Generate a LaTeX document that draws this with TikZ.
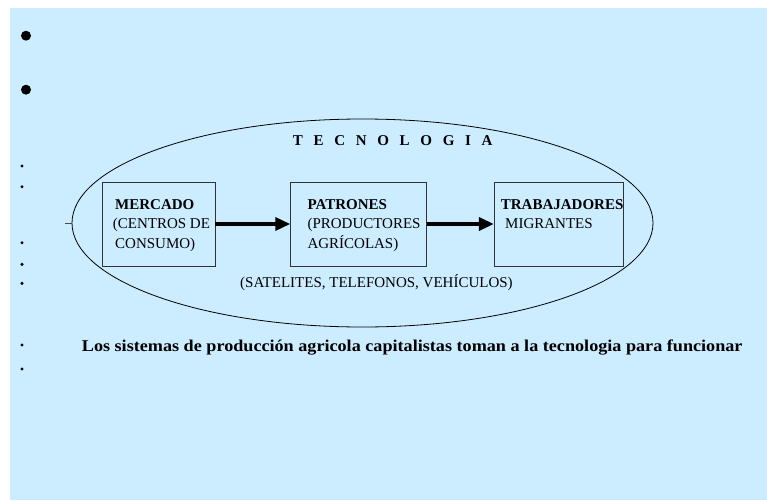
\documentclass[tikz,border=0pt]{standalone}
\usepackage{graphicx}
\usepackage{fontspec}
\setmainfont{Liberation Serif}
\usetikzlibrary{arrows.meta,shapes.geometric}
\definecolor{bgblue}{RGB}{204,236,255}
\definecolor{boxline}{RGB}{50,50,50}
\tikzset{
  txt/.style={inner sep=0pt, anchor=base west, font=\fontsize{15}{19}\selectfont},
  btxt/.style={txt, font=\fontsize{15}{19}\selectfont\bfseries},
  actor/.style={draw=boxline, line width=0.9pt, minimum width=113pt, minimum height=84pt, inner sep=0pt},
  flow/.style={line width=3.5pt, -{Triangle[length=15pt,width=13pt]}},
  bigdot/.style={fill=black, draw=none, circle, minimum size=10pt, inner sep=0pt},
  smalldot/.style={fill=black, draw=none, circle, minimum size=3.4pt, inner sep=0pt}
}
\begin{document}
\begin{tikzpicture}[x=1pt,y=-1pt]
\useasboundingbox (0,0) rectangle (767,500);
\fill[bgblue] (10,8) rectangle (767,500);

% bullets
\node[bigdot] (b1) at (26,35.7) {};
\node[bigdot] (b2) at (26,89.7) {};
\node[smalldot] (s1) at (22,166) {};
\node[smalldot] (s2) at (22,186.7) {};
\node[smalldot] (s3) at (22,242.7) {};
\node[smalldot] (s4) at (22,264.3) {};
\node[smalldot] (s5) at (22,283.3) {};
\node[smalldot] (s6) at (22,345) {};
\node[smalldot] (s7) at (22,369) {};

% ellipse
\node[ellipse, draw=black, line width=0.8pt, minimum width=581pt, minimum height=208pt, inner sep=0pt] (tec) at (362.5,223) {};
\draw[line width=0.6pt, black!70] (tec.west) -- ++(-7,0);

\node[btxt] (tt) at (292.7,145.7) {T\hspace{10.7pt}E\hspace{10.7pt}C\hspace{10.7pt}N\hspace{10.7pt}O\hspace{10.7pt}L\hspace{10.7pt}O\hspace{10.7pt}G\hspace{10.7pt}I\hspace{10.7pt}A};

% boxes
\node[actor, minimum width=113pt] (m) at (158.5,224) {};
\node[actor, minimum width=136pt] (p) at (358.7,224) {};
\node[actor, minimum width=129pt] (t) at (558.8,224) {};

\node[btxt] (m1) at (115,209) {MERCADO};
\node[txt] (m2) at (112.7,228.5) {(CENTROS DE};
\node[txt] (m3) at (115,248) {CONSUMO)};

\node[btxt] (p1) at (307.3,209) {PATRONES};
\node[txt] (p2) at (307.3,228.5) {(PRODUCTORES};
\node[txt] (p3) at (307.3,248) {AGRÍCOLAS)};

\node[btxt] (t1) at (500.7,209) {TRABAJADORES};
\node[txt] (t2) at (505,228.5) {MIGRANTES};

\draw[flow] (m.east) -- (p.west);
\draw[flow] (p.east) -- (t.west);

\node[txt] (sat) at (240,287) {(SATELITES, TELEFONOS, VEHÍCULOS)};

\node[btxt, font=\fontsize{16.5}{19}\selectfont\bfseries] (los) at (81.7,351) {\scalebox{1.1}[1]{Los sistemas de producción agricola capitalistas toman a la tecnologia para funcionar}};
\end{tikzpicture}
\end{document}
